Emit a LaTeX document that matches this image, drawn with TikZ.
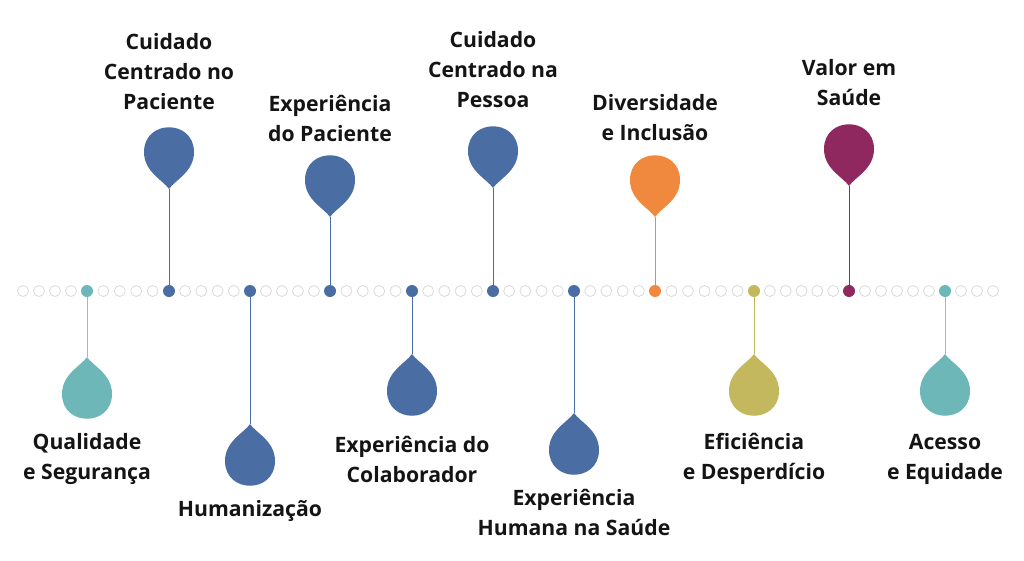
\documentclass[tikz,border=0pt]{standalone}
\usepackage{fontspec}
\setmainfont{Open Sans}
\begin{document}
\begin{tikzpicture}[x=1pt,y=-1pt]
\definecolor{cblue}{HTML}{4A6DA3}
\definecolor{cteal}{HTML}{6DB7B9}
\definecolor{corange}{HTML}{F0883E}
\definecolor{colive}{HTML}{C4B85F}
\definecolor{cpurple}{HTML}{8E285E}
\tikzset{
  empty/.style={circle,draw=black!15,line width=0.8pt,minimum size=11pt,inner sep=0pt},
  full/.style={circle,fill=#1,minimum size=12pt,inner sep=0pt},
  lbl/.style={font=\bfseries\fontsize{21.2}{30}\selectfont,align=center,text=black!92},
  stem/.style={draw=#1,line width=1pt}
}
\useasboundingbox (0,0) rectangle (1024,560);
\newcommand\dropdn[3]{\fill[#3] (#1,#2+37) .. controls (#1-6,#2+28) and (#1-25,#2+20) .. (#1-25,#2) .. controls (#1-25,#2-33) and (#1+25,#2-33) .. (#1+25,#2) .. controls (#1+25,#2+20) and (#1+6,#2+28) .. (#1,#2+37) -- cycle;}
\newcommand\dropup[3]{\fill[#3] (#1,#2-37) .. controls (#1-6,#2-28) and (#1-25,#2-20) .. (#1-25,#2) .. controls (#1-25,#2+33) and (#1+25,#2+33) .. (#1+25,#2) .. controls (#1+25,#2-20) and (#1+6,#2-28) .. (#1,#2-37) -- cycle;}
\def\gap#1#2#3{\foreach \i in {1,...,#3}{\node[empty] at ({#1+(#2-#1)*\i/(#3+1)},291) {};}}
\foreach \x in {23,39,55,71} \node[empty] at (\x,291) {};
\gap{87}{169}{4}\gap{169}{250}{4}\gap{250}{330}{4}\gap{330}{412}{4}
\gap{412}{493}{4}\gap{493}{574}{4}\gap{574}{655}{4}\gap{655}{754}{5}
\gap{754}{849}{5}\gap{849}{945}{5}
\foreach \x in {961,977,993} \node[empty] at (\x,291) {};
\node[full=cteal] (d1) at (87,291) {};
\node[full=cblue] (d2) at (169,291) {};
\node[full=cblue] (d3) at (250,291) {};
\node[full=cblue] (d4) at (330,291) {};
\node[full=cblue] (d5) at (412,291) {};
\node[full=cblue] (d6) at (493,291) {};
\node[full=cblue] (d7) at (574,291) {};
\node[full=corange] (d8) at (655,291) {};
\node[full=colive] (d9) at (754,291) {};
\node[full=cpurple] (d10) at (849,291) {};
\node[full=cteal] (d11) at (945,291) {};
\coordinate (t1) at (87,357); \coordinate (t2) at (169,189);
\coordinate (t3) at (250,424); \coordinate (t4) at (330,217);
\coordinate (t5) at (412,354); \coordinate (t6) at (493,188);
\coordinate (t7) at (574,413); \coordinate (t8) at (655,217);
\coordinate (t9) at (754,354); \coordinate (t10) at (849,186);
\coordinate (t11) at (945,354);
\draw[stem=cteal!80] (d1) -- (t1); \draw[stem=cblue] (d2) -- (t2);
\draw[stem=cblue] (d3) -- (t3); \draw[stem=cblue] (d4) -- (t4);
\draw[stem=cblue] (d5) -- (t5); \draw[stem=cblue] (d6) -- (t6);
\draw[stem=cblue] (d7) -- (t7); \draw[stem=corange] (d8) -- (t8);
\draw[stem=colive] (d9) -- (t9); \draw[stem=cpurple] (d10) -- (t10);
\draw[stem=cteal!80] (d11) -- (t11);
\dropup{87}{394}{cteal}
\dropdn{169}{152}{cblue}
\dropup{250}{461}{cblue}
\dropdn{330}{180}{cblue}
\dropup{412}{391}{cblue}
\dropdn{493}{151}{cblue}
\dropup{574}{450}{cblue}
\dropdn{655}{180}{corange}
\dropup{754}{391}{colive}
\dropdn{849}{149}{cpurple}
\dropup{945}{391}{cteal}
\node[lbl] (l2) at (169,72) {Cuidado\\Centrado no\\Paciente};
\node[lbl] (l4) at (330,118) {Experiência\\do Paciente};
\node[lbl] (l6) at (493,70) {Cuidado\\Centrado na\\Pessoa};
\node[lbl] (l8) at (655,118) {Diversidade\\e Inclusão};
\node[lbl] (l10) at (849,83) {Valor em\\Saúde};
\node[lbl] (l1) at (87,459) {Qualidade\\e Segurança};
\node[lbl] (l3) at (250,511) {Humanização};
\node[lbl] (l5) at (412,459) {Experiência do\\Colaborador};
\node[lbl] (l7) at (574,512) {Experiência\\Humana na Saúde};
\node[lbl] (l9) at (754,459) {Eficiência\\e Desperdício};
\node[lbl] (l11) at (945,459) {Acesso\\e Equidade};
\end{tikzpicture}
\end{document}
